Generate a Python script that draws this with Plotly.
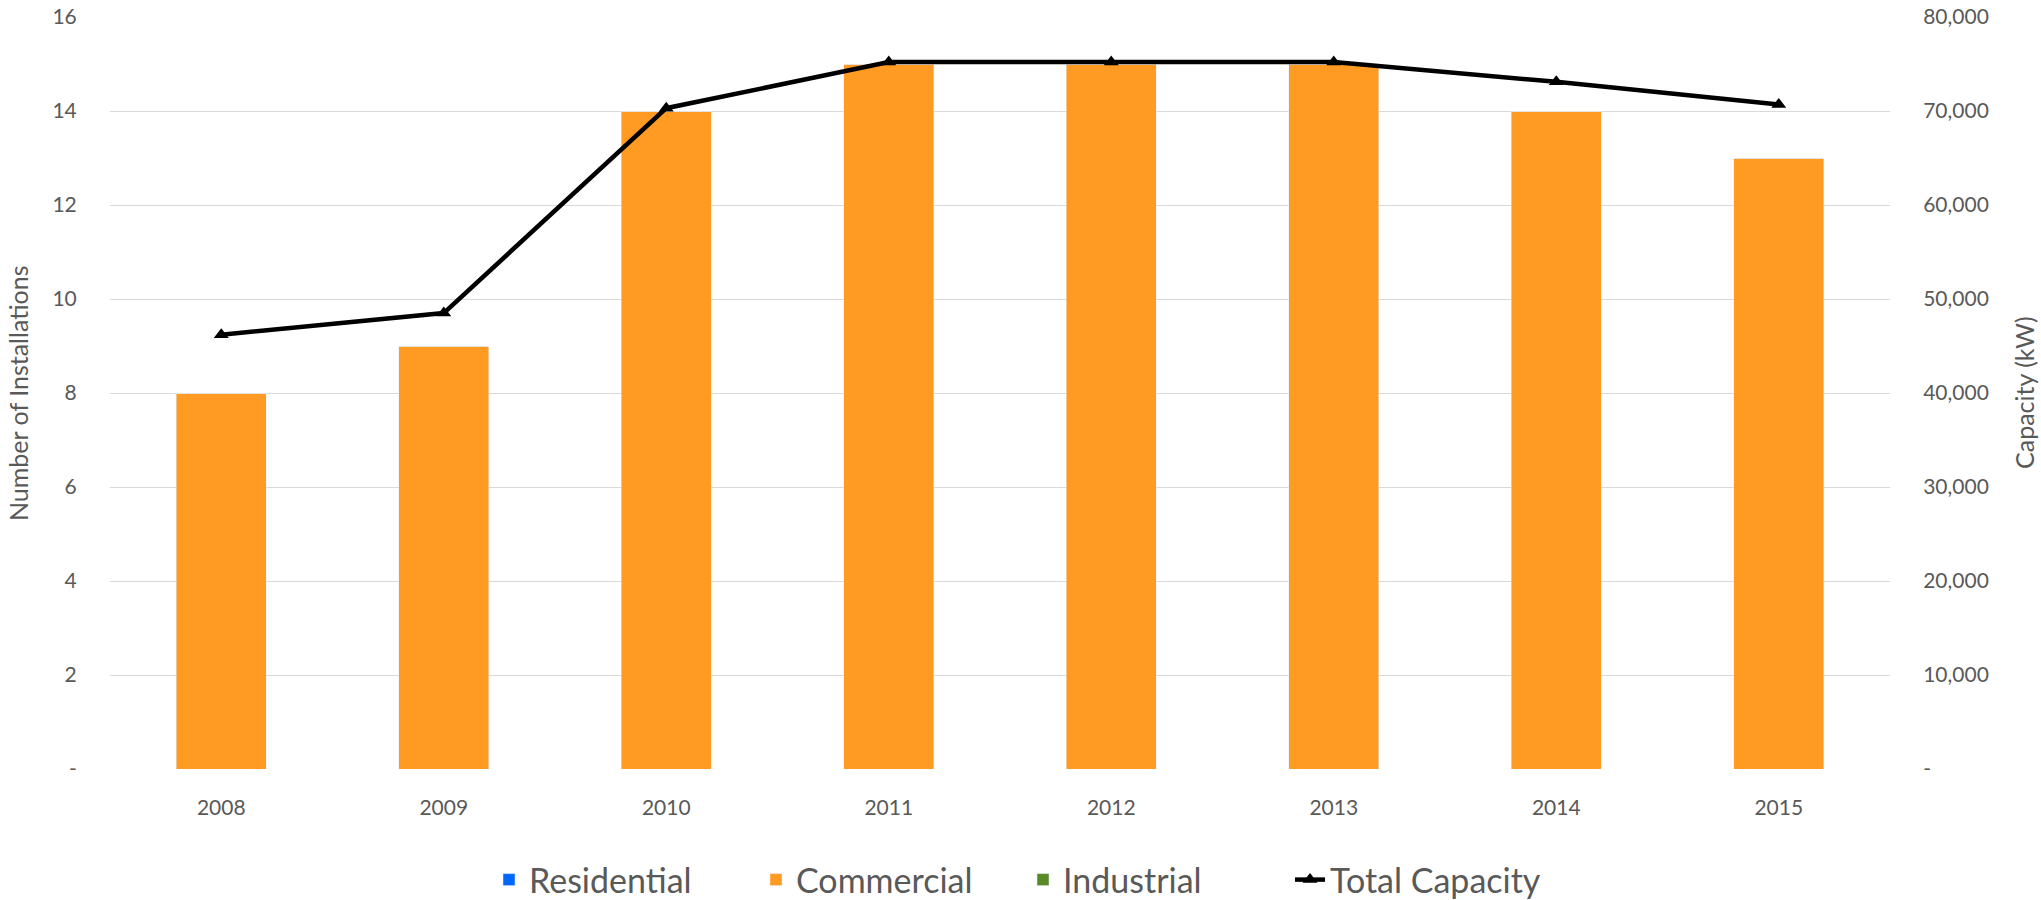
import plotly.graph_objects as go

years = ["2008", "2009", "2010", "2011", "2012", "2013", "2014", "2015"]
residential = [0, 0, 0, 0, 0, 0, 0, 0]
commercial = [8, 9, 14, 15, 15, 15, 14, 13]
industrial = [0, 0, 0, 0, 0, 0, 0, 0]
total_capacity = [46200, 48500, 70300, 75200, 75200, 75200, 73100, 70700]

left_ticks = [0, 2, 4, 6, 8, 10, 12, 14, 16]
left_tick_text = ["-", "2", "4", "6", "8", "10", "12", "14", "16"]
right_ticks = [0, 10000, 20000, 30000, 40000, 50000, 60000, 70000, 80000]
right_tick_text = ["-", "10,000", "20,000", "30,000", "40,000", "50,000", "60,000", "70,000", "80,000"]

FONT = "Lato"
GRAY = "#595959"

fig = go.Figure()
fig.add_trace(go.Bar(x=years, y=residential, name="Residential", marker_color="#0066FF"))
fig.add_trace(go.Bar(x=years, y=commercial, name="Commercial", marker_color="#FF9A22"))
fig.add_trace(go.Bar(x=years, y=industrial, name="Industrial", marker_color="#578A26"))
fig.add_trace(go.Scatter(x=years, y=total_capacity, name="Total Capacity", yaxis="y2",
                         mode="lines+markers",
                         line=dict(color="black", width=4.5),
                         marker=dict(symbol="triangle-up", size=13, color="black")))

L, R, T, B = 110, 151, 17, 131
W, H = 2041, 900
pw = W - L - R
ph = H - T - B

fig.update_layout(
    width=W, height=H,
    margin=dict(l=L, r=R, t=T, b=B, autoexpand=False),
    barmode="stack",
    bargap=0.596,
    plot_bgcolor="white",
    paper_bgcolor="white",
    font=dict(family=FONT, color=GRAY, size=21),
    showlegend=True,
    legend=dict(orientation="h", x=(1023 - L) / pw, xanchor="center",
                yref="container", y=(H - 880) / H, yanchor="middle",
                font=dict(size=34, color=GRAY, family=FONT),
                traceorder="normal", itemwidth=30,
                entrywidth=222, entrywidthmode="pixels"),
    xaxis=dict(showgrid=False, showline=False, zeroline=False, automargin=False,
               ticks="outside", ticklen=20, tickcolor="rgba(0,0,0,0)",
               tickfont=dict(size=21, color=GRAY, family=FONT)),
    yaxis=dict(range=[0, 16], tickvals=left_ticks, ticktext=left_tick_text,
               showgrid=True, gridcolor="#D9D9D9", gridwidth=1.3,
               zeroline=False, showline=False, automargin=False,
               ticks="outside", ticklen=28, tickcolor="rgba(0,0,0,0)",
               tickfont=dict(size=21, color=GRAY, family=FONT)),
    yaxis2=dict(range=[0, 80000], tickvals=right_ticks, ticktext=right_tick_text,
                overlaying="y", side="right", showgrid=False, zeroline=False,
                showline=False, automargin=False,
                ticks="outside", ticklen=28, tickcolor="rgba(0,0,0,0)",
                tickfont=dict(size=21, color=GRAY, family=FONT)),
    annotations=[
        dict(text="Number of Installations", xref="paper", yref="paper",
             x=(18 - L) / pw, y=0.5, textangle=-90, showarrow=False,
             xanchor="center", yanchor="middle",
             font=dict(size=25, color=GRAY, family=FONT)),
        dict(text="Capacity (kW)", xref="paper", yref="paper",
             x=(2024 - L) / pw, y=0.5, textangle=-90, showarrow=False,
             xanchor="center", yanchor="middle",
             font=dict(size=25, color=GRAY, family=FONT)),
    ],
)

fig.write_html("out.html",
               config={"displayModeBar": False},
               post_script="document.body.style.margin='0';document.body.style.overflow='hidden';")
